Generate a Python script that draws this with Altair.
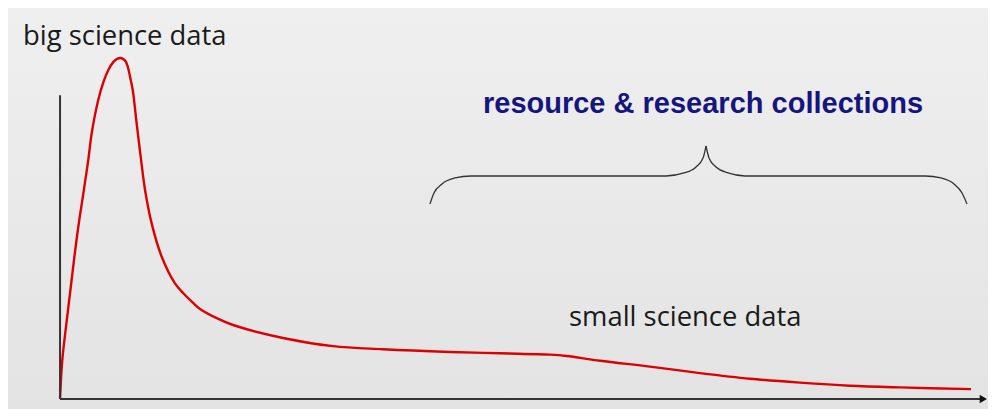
import altair as alt
import pandas as pd

# Curve (conceptual units: x 0..100 along the axis, y 0..100 up to the peak)
curve_x = [-0.21, 0.03, 0.43, 0.86, 1.29, 1.75, 2.29, 2.82, 3.19, 3.89, 4.45, 4.97, 5.5, 5.95, 6.33,
           6.75, 7.05, 7.30, 7.59, 8.01, 8.44, 8.91, 9.62, 10.70, 12.12, 13.02, 14.09, 14.81, 16.60,
           18.35, 23.71, 29.08, 34.44, 41.63, 47.0, 52.4, 54.15, 57.73, 63.09, 68.45, 73.82, 79.18,
           84.55, 89.91, 97.53]
curve_y = [0.29, 11.4, 21.2, 31.0, 40.8, 50.5, 60.3, 70.1, 78.0, 87.7, 93.0, 96.5, 98.8, 99.8, 100.0,
           99.3, 97.5, 94.5, 90.6, 80.8, 71.1, 61.3, 51.5, 41.7, 33.9, 31.0, 28.1, 26.4, 23.7,
           21.7, 17.9, 15.5, 14.6, 13.8, 13.4, 13.0, 12.6, 11.2, 9.5, 7.6, 5.95, 4.8,
           3.9, 3.4, 2.9]

# Brace outline (two halves)
brace_left_x = [39.48, 39.91, 40.77, 42.17, 43.88, 64.81, 66.74, 68.03, 68.78, 69.10]
brace_left_y = [57.18, 60.41, 63.05, 64.81, 65.40, 65.40, 66.28, 68.04, 70.67, 74.19]
brace_right_x = [69.10, 69.42, 70.17, 71.46, 73.28, 92.60, 94.31, 95.71, 96.57, 97.10]
brace_right_y = [74.19, 70.67, 68.04, 66.28, 65.40, 65.40, 64.81, 63.05, 60.41, 57.18]

# Labels
label_text = ["big science data", "small science data"]
label_x = [-4.18, 54.4]
label_y = [103.8, 21.5]
title_text = ["resource & research collections"]
title_x = [45.17]
title_y = [83.8]

# Axis extents
axis_end_x = 98.5
axis_top_y = 89.1
arrow_x = 98.85

W, H = 980, 401
xs = alt.Scale(domain=[-5.794, 99.356], nice=False, zero=False)
ys = alt.Scale(domain=[-2.933, 114.66], nice=False, zero=False)

bg = alt.Chart(pd.DataFrame({"a": [0]})).mark_rect(
    fill=alt.Gradient(gradient="linear",
                      stops=[alt.GradientStop(color="#efefef", offset=0),
                             alt.GradientStop(color="#e3e3e3", offset=1)],
                      x1=0, x2=0, y1=0, y2=1),
    stroke=None
).encode(x=alt.value(0), x2=alt.value(W), y=alt.value(0), y2=alt.value(H))

curve_df = pd.DataFrame({"x": curve_x, "y": curve_y, "i": range(len(curve_x))})
curve = alt.Chart(curve_df).mark_line(color="#dd0000", strokeWidth=2.4, interpolate="catmull-rom").encode(
    x=alt.X("x:Q", scale=xs, axis=None),
    y=alt.Y("y:Q", scale=ys, axis=None),
    order="i:Q",
)

brace_df = pd.DataFrame({
    "x": brace_left_x + brace_right_x,
    "y": brace_left_y + brace_right_y,
    "half": ["L"] * len(brace_left_x) + ["R"] * len(brace_right_x),
    "i": list(range(len(brace_left_x))) + list(range(len(brace_right_x))),
})
brace = alt.Chart(brace_df).mark_line(color="#333333", strokeWidth=1.3, interpolate="monotone").encode(
    x=alt.X("x:Q", scale=xs, axis=None),
    y=alt.Y("y:Q", scale=ys, axis=None),
    detail="half:N",
    order="i:Q",
)

axes_df = pd.DataFrame({"x": [-0.21, -0.21], "x2": [-0.21, axis_end_x],
                        "y": [0.0, 0.0], "y2": [axis_top_y, 0.0]})
axes = alt.Chart(axes_df).mark_rule(color="#333333", strokeWidth=2).encode(
    x=alt.X("x:Q", scale=xs, axis=None), x2="x2:Q",
    y=alt.Y("y:Q", scale=ys, axis=None), y2="y2:Q",
)

arrow = alt.Chart(pd.DataFrame({"x": [arrow_x], "y": [0.0]})).mark_point(
    shape="triangle-right", filled=True, color="#111111", size=70, opacity=1
).encode(x=alt.X("x:Q", scale=xs, axis=None), y=alt.Y("y:Q", scale=ys, axis=None))

labels = alt.Chart(pd.DataFrame({"t": label_text, "x": label_x, "y": label_y})).mark_text(
    font="Open Sans", fontSize=27.4, color="#1a1a1a", align="left", baseline="alphabetic"
).encode(x=alt.X("x:Q", scale=xs, axis=None), y=alt.Y("y:Q", scale=ys, axis=None), text="t:N")

title = alt.Chart(pd.DataFrame({"t": title_text, "x": title_x, "y": title_y})).mark_text(
    font="Liberation Sans", fontSize=29, fontWeight="bold", color="#151580", align="left",
    baseline="alphabetic"
).encode(x=alt.X("x:Q", scale=xs, axis=None), y=alt.Y("y:Q", scale=ys, axis=None), text="t:N")

chart = alt.layer(bg, curve, brace, axes, arrow, labels, title).properties(
    width=W, height=H, padding=0, background="#e9e9e9",
    autosize=alt.AutoSizeParams(type="fit", contains="padding"),
).configure_view(stroke=None)

chart.save("out.html", embed_options={"renderer": "svg", "actions": False})
